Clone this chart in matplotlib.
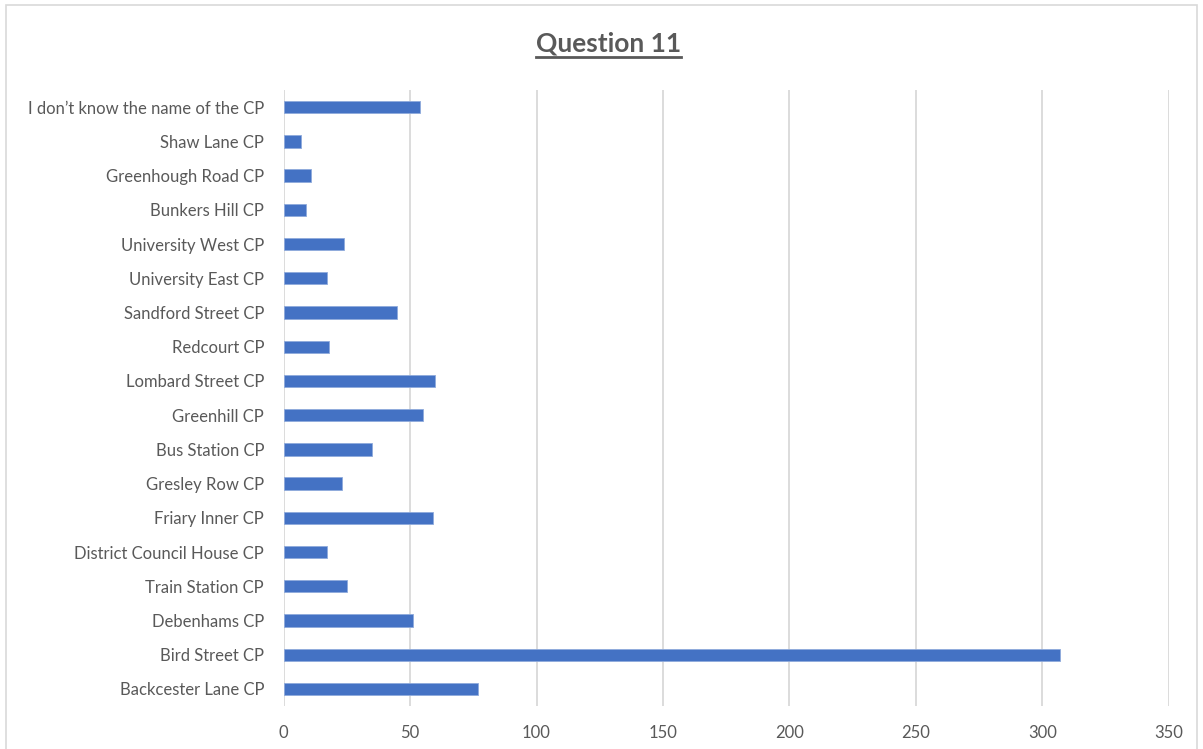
import matplotlib
matplotlib.use("Agg")
import matplotlib.pyplot as plt
from matplotlib.patches import Rectangle
from matplotlib.lines import Line2D

# car parks, bottom to top as drawn
car_parks = [
    "Backcester Lane CP",
    "Bird Street CP",
    "Debenhams CP",
    "Train Station CP",
    "District Council House CP",
    "Friary Inner CP",
    "Gresley Row CP",
    "Bus Station CP",
    "Greenhill CP",
    "Lombard Street CP",
    "Redcourt CP",
    "Sandford Street CP",
    "University East CP",
    "University West CP",
    "Bunkers Hill CP",
    "Greenhough Road CP",
    "Shaw Lane CP",
    "I don\u2019t know the name of the CP",
]
responses = [77, 307, 51, 25, 17, 59, 23, 35, 55, 60, 18, 45, 17, 24, 9, 11, 7, 54]
x_ticks = [0, 50, 100, 150, 200, 250, 300, 350]

BAR = "#4472C4"
TXT = "#595959"
GRID = "#D9D9D9"

plt.rcParams["font.family"] = ["Lato", "DejaVu Sans"]

fig = plt.figure(figsize=(12.03, 7.49), dpi=100)
ax = fig.add_axes([0.2357, 0.0574, 0.736, 0.8224])

ypos = list(range(len(car_parks)))
ax.barh(ypos, responses, height=0.36, color=BAR, edgecolor="#8FAADC", linewidth=0.6, zorder=3)

ax.set_xlim(0, 350)
ax.set_ylim(-0.5, len(car_parks) - 0.5)
ax.set_xticks(x_ticks)
ax.set_yticks(ypos)
ax.set_yticklabels(car_parks)
ax.tick_params(axis="both", length=0, labelsize=12, labelcolor=TXT)
ax.tick_params(axis="y", pad=14)
ax.tick_params(axis="x", pad=14)
ax.grid(axis="x", color=GRID, linewidth=1.3, zorder=0)
for s in ax.spines.values():
    s.set_visible(False)

# title with underline
title = fig.text(0.5055, 0.942, "Question 11", ha="center", va="center",
                 fontsize=19, fontweight="bold", color=TXT)
fig.canvas.draw()
bb = title.get_window_extent().transformed(fig.transFigure.inverted())
fig.add_artist(Line2D([bb.x0, bb.x1], [bb.y0 - 0.002, bb.y0 - 0.002],
                      transform=fig.transFigure, color=TXT, linewidth=2))

# chart area border
fig.add_artist(Rectangle((0.005, -0.01), 0.99, 1.003, transform=fig.transFigure,
                         fill=False, edgecolor=GRID, linewidth=1.2))

fig.savefig("out.png", dpi=100)
